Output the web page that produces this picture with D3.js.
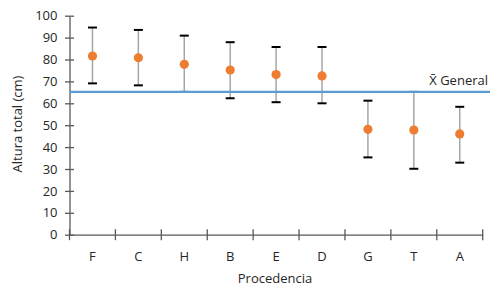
<!DOCTYPE html>
<html><head><meta charset="utf-8">
<script src="https://cdn.jsdelivr.net/npm/d3@7/dist/d3.min.js"></script>
<style>body{margin:0;background:#fff}svg{display:block}text{font-family:"Open Sans","Noto Sans",sans-serif;fill:#262626}</style>
</head><body><svg id="c" width="501" height="288"></svg>
<script>
const categories = ["F","C","H","B","E","D","G","T","A"];
const means = [81.6, 80.8, 77.8, 75.2, 73.1, 72.5, 48.1, 47.8, 46.0];
const upper = [94.6, 93.5, 90.9, 87.9, 85.7, 85.7, 61.2, 65.2, 58.4];
const lower = [69.1, 68.2, 65.2, 62.3, 60.5, 60.0, 35.3, 30.1, 32.9];
const generalMean = 65.2;
const yTicks = [0,10,20,30,40,50,60,70,80,90,100];

const svg = d3.select("#c");
const x = d3.scaleBand().domain(categories).range([69.5, 482.7]);
const y = d3.scaleLinear().domain([0,100]).range([234.7, 15.7]);
const axisColor = "#595959";

// y axis
const ya = svg.append("g").attr("transform","translate(69.5,0)")
  .call(d3.axisLeft(y).tickValues(yTicks).tickSize(0).tickPadding(12));
ya.select(".domain").attr("stroke",axisColor).attr("stroke-width",1.3);
ya.selectAll("text").style("font-size","13px").attr("fill","#262626").style("font-family","'Open Sans',sans-serif");
ya.selectAll(".tick").append("line").attr("x1",-4.5).attr("x2",4.5).attr("stroke",axisColor).attr("stroke-width",1.3);

// x axis
const xa = svg.append("g").attr("transform","translate(0,234.7)")
  .call(d3.axisBottom(x).tickSize(0).tickPadding(17));
xa.select(".domain").attr("stroke",axisColor).attr("stroke-width",1.3);
xa.selectAll("text").style("font-size","13px").attr("fill","#262626").style("font-family","'Open Sans',sans-serif");
const bounds = categories.map(c => x(c)).concat([x.range()[1]]);
xa.selectAll(".bt").data(bounds).enter().append("line")
  .attr("x1",d=>d).attr("x2",d=>d).attr("y1",-5.5).attr("y2",5.5)
  .attr("stroke",axisColor).attr("stroke-width",1.3);

// error bars
const cx = c => x(c) + x.bandwidth()/2;
const g = svg.append("g");
categories.forEach((c,i)=>{
  g.append("line").attr("x1",cx(c)).attr("x2",cx(c)).attr("y1",y(upper[i])).attr("y2",y(lower[i]))
    .attr("stroke","#a6a6a6").attr("stroke-width",1.5);
  [upper[i],lower[i]].forEach(v=>{
    g.append("line").attr("x1",cx(c)-4.5).attr("x2",cx(c)+4.5).attr("y1",y(v)).attr("y2",y(v))
      .attr("stroke","#000").attr("stroke-width",2);
  });
});

// general mean line
svg.append("line").attr("x1",69.5).attr("x2",490).attr("y1",y(generalMean)).attr("y2",y(generalMean))
  .attr("stroke","#5b9bd5").attr("stroke-width",2.2);

// points
svg.append("g").selectAll("circle").data(categories).enter().append("circle")
  .attr("cx",c=>cx(c)).attr("cy",(c,i)=>y(means[i])).attr("r",4.6).attr("fill","#ed7d31");

// label
svg.append("text").attr("x",488).attr("y",85).attr("text-anchor","end")
  .style("font-size","13px").text("X\u0304 General");

// axis titles
svg.append("text").attr("transform","translate(22,124) rotate(-90)").attr("text-anchor","middle")
  .style("font-size","13px").text("Altura total (cm)");
svg.append("text").attr("x",275).attr("y",282.5).attr("text-anchor","middle")
  .style("font-size","13px").text("Procedencia");
</script></body></html>
